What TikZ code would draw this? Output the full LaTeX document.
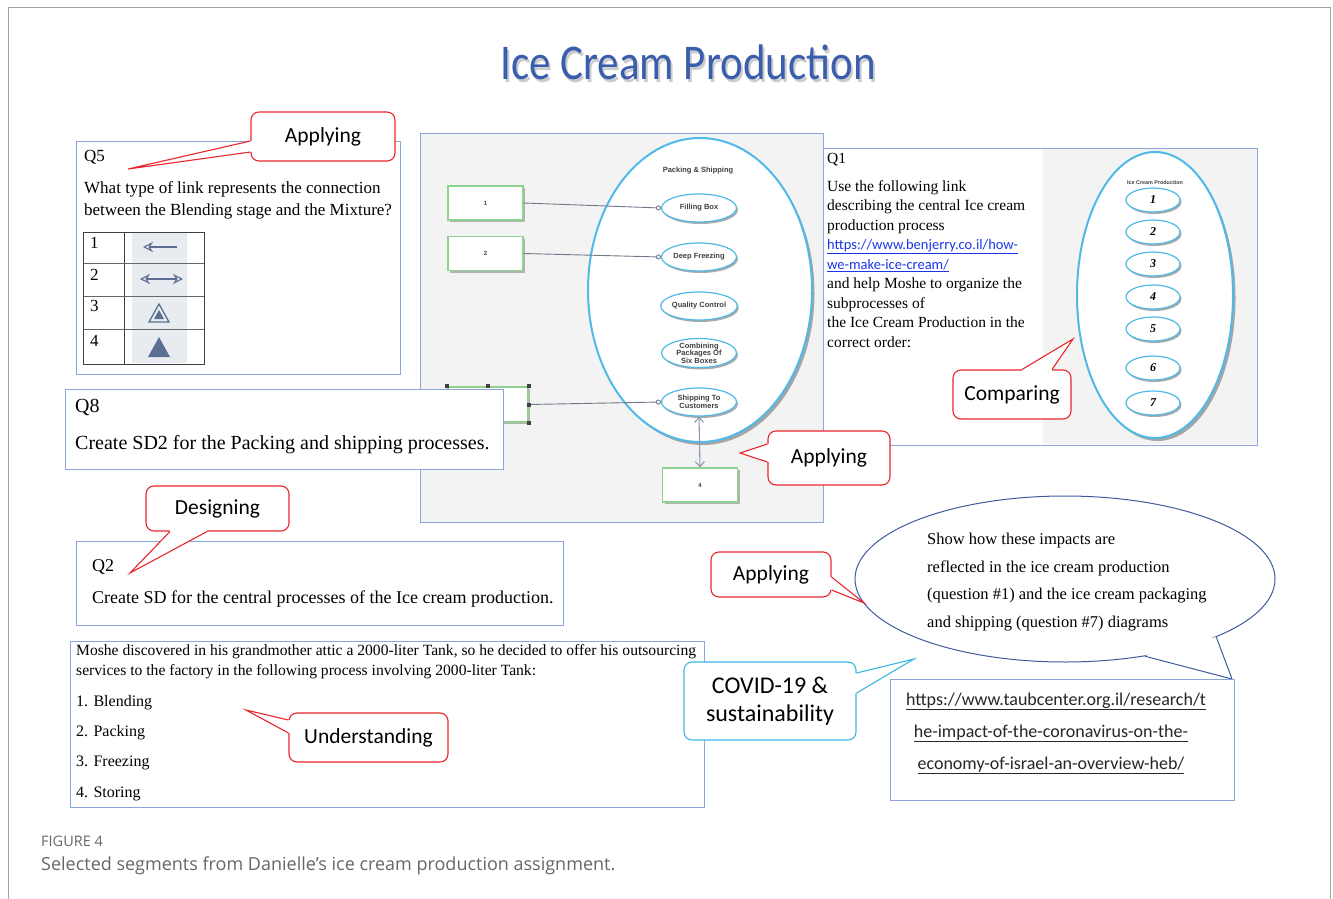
\documentclass[tikz,border=0pt]{standalone}
\usepackage{fontspec}
\setmainfont{Liberation Serif}
\newfontfamily\calib{Carlito}
\newfontfamily\titlefont[FakeStretch=0.86]{Carlito}
\newfontfamily\capfont{Open Sans}
\newfontfamily\sdfont{Liberation Sans}
\usepackage{tikz}
\usetikzlibrary{calc}
\usetikzlibrary{positioning}
\usetikzlibrary{arrows.meta}
\usetikzlibrary{shapes.geometric}
\usetikzlibrary{shadows}

\definecolor{qblue}{HTML}{8AA6DA}
\definecolor{tagred}{HTML}{E8262C}
\definecolor{tagcyan}{HTML}{3BB7E6}
\definecolor{titleblue}{HTML}{3A5DAE}
\definecolor{panelgray}{HTML}{F3F3F3}
\definecolor{ellblue}{HTML}{4FB9E8}
\definecolor{linkblue}{HTML}{1B36E8}
\definecolor{bubbleblue}{HTML}{3F5B9E}
\definecolor{boxgreen}{HTML}{8FD28F}
\definecolor{linkgray}{HTML}{707988}
\definecolor{symblue}{HTML}{5A6F93}
\definecolor{cellgray}{HTML}{E8ECF0}
\definecolor{framegray}{HTML}{A3A3A3}
\definecolor{capgray}{HTML}{666666}

\tikzset{
  qbox/.style={draw=qblue, line width=1pt, fill=white, inner sep=0pt},
  tag/.style={draw=tagred, line width=1.1pt, fill=white, rounded corners=8pt, inner sep=0pt, font=\calib\fontsize{21.5}{24}\selectfont},
  tagline/.style={draw=tagred, line width=1.1pt, line join=miter},
  line/.style={anchor=base west, inner sep=0pt},
  subproc/.style={ellipse, draw=ellblue, line width=1.2pt, fill=white, minimum width=75, minimum height=28, inner sep=0pt, align=center, text=black!75, font=\sdfont\bfseries\fontsize{7.5}{7.5}\selectfont, drop shadow={shadow xshift=1.5pt, shadow yshift=-2pt, fill=black!65}},
  numproc/.style={ellipse, draw=ellblue, line width=1.2pt, fill=white, minimum width=54, minimum height=24, inner sep=0pt, font=\bfseries\itshape\fontsize{12}{12}\selectfont, drop shadow={shadow xshift=1.5pt, shadow yshift=-2pt, fill=black!65}},
  objbox/.style={draw=boxgreen, line width=1.2pt, fill=white, minimum width=75, minimum height=34, inner sep=0pt, text=black!75, font=\sdfont\bfseries\fontsize{6}{6}\selectfont, drop shadow={shadow xshift=2pt, shadow yshift=-2pt, fill=black!55}},
  link/.style={draw=linkgray, line width=0.9pt, arrows={-Circle[length=5pt,fill=white]}},
  biarrow/.style={draw=symblue!70, line width=1.1pt, arrows={Straight Barb[length=5pt,width=9pt]-Straight Barb[length=5pt,width=9pt]}},
  urltext/.style={anchor=base, inner sep=0pt, text=black!85, font=\calib\fontsize{18}{20}\selectfont}
}

\begin{document}
\begin{tikzpicture}[x=1pt, y=-1pt, >=latex]
  \useasboundingbox (0,0) rectangle (1333,899);
  % frame and heading
  \draw[framegray, line width=1pt] (8,899) -- (8,8) -- (1330,8) -- (1330,899);
  \node[anchor=base, text=black!20, font=\titlefont\fontsize{50}{52}\selectfont] (titleshade) at (690,82) {Ice Cream Production};
  \node[anchor=base, text=titleblue, font=\titlefont\fontsize{50}{52}\selectfont] (title) at (688,80) {Ice Cream Production};

  % SD2 picture
  \node[qbox, fill=panelgray, minimum width=403, minimum height=389] (sdpanel) at (621.5,327.5) {};
  \node[ellipse, draw=ellblue, line width=2pt, fill=white, minimum width=224, minimum height=304, drop shadow={shadow xshift=2.5pt, shadow yshift=-3pt, fill=black!65}] (packell) at (700,290) {};
  \node[text=black!75, font=\sdfont\bfseries\fontsize{7.5}{8}\selectfont] (packtitle) at (698,171) {Packing \& Shipping};
  \foreach \lab/\yy [count=\i] in {Filling Box/208, Deep Freezing/257, Quality Control/306, {Combining\\Packages Of\\Six Boxes}/353, {Shipping To\\Customers}/402}
    \node[subproc] (sp\i) at (699,\yy) {\lab};
  \node[objbox] (ob1) at (485.5,203) {1};
  \node[objbox] (ob2) at (485.5,253.5) {2};
  \node[objbox, minimum width=80, minimum height=35] (ob3) at (488,404.5) {};
  \node[objbox] (ob4) at (700,485) {4};
  \draw[link] (ob1.east) -- (sp1.west);
  \draw[link] (ob2.east) -- (sp2.west);
  \draw[link] (ob3.east) -- (sp5.west);
  \draw[biarrow] (sp5.south) -- (ob4.north);
  \foreach \a in {north west,north,north east,east,south east}
    \fill[black!75] ([shift={(-2pt,-2pt)}]ob3.\a) rectangle ++(4pt,4pt);

  % Q1 with the production ellipse
  \node[qbox, minimum width=434, minimum height=297] (q1panel) at (1040,296.5) {};
  \fill[panelgray] (1043,149) rectangle (1256.5,444);
  \node[line, font=\fontsize{15.5}{18}\selectfont] (q1id) at (827,163) {Q1};
  \foreach \txt [count=\i] in {Use the following link, describing the central Ice cream, production process,
      {{\calib\fontsize{14.5}{17}\selectfont\color{linkblue}\underline{https://www.benjerry.co.il/how-}}},
      {{\calib\fontsize{14.5}{17}\selectfont\color{linkblue}\underline{we-make-ice-cream/}}},
      and help Moshe to organize the, subprocesses of, the Ice Cream Production in the, correct order:}
    \node[line, font=\fontsize{15.5}{18}\selectfont] (q1l\i) at (827,{172+19.45*\i}) {\txt};
  \node[ellipse, draw=ellblue, line width=2pt, fill=white, minimum width=156, minimum height=286, drop shadow={shadow xshift=2.5pt, shadow yshift=-3pt, fill=black!65}] (prodell) at (1155,295) {};
  \node[text=black!75, font=\sdfont\bfseries\fontsize{5.4}{6}\selectfont] (prodtitle) at (1155,183) {Ice Cream Production};
  \foreach \yy [count=\i] in {200,232,264,297,329,368,403}
    \node[numproc] (np\i) at (1153,\yy) {\i};

  % Q5
  \node[qbox, minimum width=324, minimum height=233] (q5) at (238,258) {};
  \node[line, font=\fontsize{17}{20}\selectfont] (q5id) at (84,161) {Q5};
  \node[line, font=\fontsize{17}{20}\selectfont] (q5l1) at (84,193) {What type of link represents the connection};
  \node[line, font=\fontsize{17}{20}\selectfont] (q5l2) at (84,215) {between the Blending stage and the Mixture?};
  \fill[cellgray] (132,233) rectangle (187,363);
  \draw[black!75, line width=0.9pt] (83,232) rectangle (204,364);
  \draw[black!75, line width=0.9pt] (124,232) -- (124,364);
  \foreach \yy in {263,296,329}
    \draw[black!60, line width=0.9pt] (83,\yy) -- (204,\yy);
  \foreach \yy [count=\i] in {248,280,311,346}
    \node[line, font=\fontsize{17}{20}\selectfont] (cell\i) at (90,\yy) {\i};
  \draw[symblue, line width=1.1pt, arrows={Stealth[open,length=10pt,width=10pt]-}] (143,247) -- (177,247);
  \draw[symblue, line width=1.1pt, arrows={Stealth[open,length=10pt,width=10pt]-Stealth[open,length=10pt,width=10pt]}] (140,279) -- (183,279);
  \draw[symblue, line width=1.3pt, line join=miter] (149,322) -- (159,304) -- (169,322) -- cycle;
  \fill[symblue] (154,319) -- (159,310) -- (164,319) -- cycle;
  \fill[symblue] (148,357) -- (159,337) -- (170,357) -- cycle;

  % Q8
  \node[qbox, minimum width=438, minimum height=80] (q8) at (284,429) {};
  \node[line, font=\fontsize{20}{24}\selectfont] (q8id) at (75,412) {Q8};
  \node[line, font=\fontsize{20}{24}\selectfont] (q8txt) at (75,449) {Create SD2 for the Packing and shipping processes.};

  % Q2
  \node[qbox, minimum width=487, minimum height=84] (q2) at (319.5,583) {};
  \node[line, font=\fontsize{18}{22}\selectfont] (q2id) at (92,571) {Q2};
  \node[line, font=\fontsize{18}{22}\selectfont] (q2txt) at (92,603) {Create SD for the central processes of the Ice cream production.};

  % tank story
  \node[qbox, minimum width=634, minimum height=166] (moshe) at (387,724) {};
  \node[line, font=\fontsize{15.6}{18}\selectfont] (moshe1) at (76,655) {Moshe discovered in his grandmother attic a 2000-liter Tank, so he decided to offer his outsourcing};
  \node[line, font=\fontsize{15.6}{18}\selectfont] (moshe2) at (76,675) {services to the factory in the following process involving 2000-liter Tank:};
  \foreach \txt [count=\i] in {Blending, Packing, Freezing, Storing}
    \node[line, font=\fontsize{16}{18}\selectfont] (item\i) at (76,{676+30.3*\i}) {\i. \txt};

  % COVID bubble
  \node[ellipse, draw=bubbleblue, line width=1pt, fill=white, minimum width=420, minimum height=166, inner sep=0pt] (bubble) at (1065,579) {};
  \coordinate (bubtip) at (1232,679);
  \fill[white] (bubble.-21) -- (bubtip) -- (bubble.-44) -- ($(bubble.-32)!9pt!(bubble.center)$) -- cycle;
  \draw[bubbleblue, line width=1pt, line join=miter] (bubble.-21) -- (bubtip) -- (bubble.-44);
  \foreach \txt [count=\i] in {Show how these impacts are, reflected in the ice cream production,
      {(question \#1) and the ice cream packaging}, {and shipping (question \#7) diagrams}}
    \node[line, font=\fontsize{16.5}{19}\selectfont] (bub\i) at (927,{517.5+27.4*\i}) {\txt};
  \node[qbox, minimum width=344, minimum height=121] (urlbox) at (1062,739.5) {};
  \node[urltext] (url1) at (1056,705) {\underline{https://www.taubcenter.org.il/research/t}};
  \node[urltext] (url2) at (1051,737) {\underline{he-impact-of-the-coronavirus-on-the-}};
  \node[urltext] (url3) at (1051,769) {\underline{economy-of-israel-an-overview-heb/}};

  % callouts
  \node[tag, minimum width=144, minimum height=49] (tagq5) at (323,136.5) {Applying};
  \coordinate (tagq5tip) at (128,169);
  \draw[white, line width=2.5pt] ([yshift=-4.5pt]tagq5.west) -- ([yshift=-15.5pt]tagq5.west);
  \filldraw[tagline, fill=white] ([yshift=-4.5pt]tagq5.west) -- (tagq5tip) -- ([yshift=-15.5pt]tagq5.west);

  \node[tag, minimum width=122, minimum height=54] (tagsd) at (829,458) {Applying};
  \coordinate (tagsdtip) at (740,453);
  \draw[white, line width=2.5pt] ([yshift=14pt]tagsd.west) -- ([yshift=-4pt]tagsd.west);
  \filldraw[tagline, fill=white] ([yshift=14pt]tagsd.west) -- (tagsdtip) -- ([yshift=-4pt]tagsd.west);

  \node[tag, minimum width=118, minimum height=49] (tagcmp) at (1012,394.5) {Comparing};
  \coordinate (tagcmptip) at (1073,339);
  \draw[white, line width=2.5pt] ([xshift=10pt]tagcmp.north) -- ([xshift=40pt]tagcmp.north);
  \filldraw[tagline, fill=white] ([xshift=10pt]tagcmp.north) -- (tagcmptip) -- ([xshift=40pt]tagcmp.north);

  \node[tag, minimum width=143, minimum height=45] (tagdes) at (217.5,508.5) {Designing};
  \coordinate (tagdestip) at (130,573);
  \draw[white, line width=2.5pt] ([xshift=-47.5pt]tagdes.south) -- ([xshift=-10.5pt]tagdes.south);
  \filldraw[tagline, fill=white] ([xshift=-47.5pt]tagdes.south) -- (tagdestip) -- ([xshift=-10.5pt]tagdes.south);

  \node[tag, minimum width=120, minimum height=45] (tagbub) at (771,574.5) {Applying};
  \coordinate (tagbubtip) at (864,603);
  \draw[white, line width=2.5pt] ([yshift=-2.5pt]tagbub.east) -- ([yshift=-15.5pt]tagbub.east);
  \filldraw[tagline, fill=white] ([yshift=-2.5pt]tagbub.east) -- (tagbubtip) -- ([yshift=-15.5pt]tagbub.east);

  \node[tag, draw=tagcyan, minimum width=172, minimum height=78, align=center, font=\calib\fontsize{24}{28}\selectfont] (tagcovid) at (770,701) {COVID-19 \&\\sustainability};
  \coordinate (tagcovidtip) at (914,659);
  \draw[white, line width=2.5pt] ([yshift=28pt]tagcovid.east) -- ([yshift=8pt]tagcovid.east);
  \filldraw[tagline, draw=tagcyan, fill=white] ([yshift=28pt]tagcovid.east) -- (tagcovidtip) -- ([yshift=8pt]tagcovid.east);

  \node[tag, minimum width=159, minimum height=49] (tagund) at (368.5,737.5) {Understanding};
  \coordinate (tagundtip) at (246,710);
  \draw[white, line width=2.5pt] ([yshift=17.5pt]tagund.west) -- ([yshift=4.5pt]tagund.west);
  \filldraw[tagline, fill=white] ([yshift=17.5pt]tagund.west) -- (tagundtip) -- ([yshift=4.5pt]tagund.west);

  % caption
  \node[line, text=capgray, font=\capfont\fontsize{14.5}{16}\selectfont] (figno) at (41,846) {FIGURE 4};
  \node[line, text=capgray, font=\capfont\fontsize{18}{20}\selectfont] (figcap) at (41,870) {Selected segments from Danielle’s ice cream production assignment.};
\end{tikzpicture}
\end{document}
